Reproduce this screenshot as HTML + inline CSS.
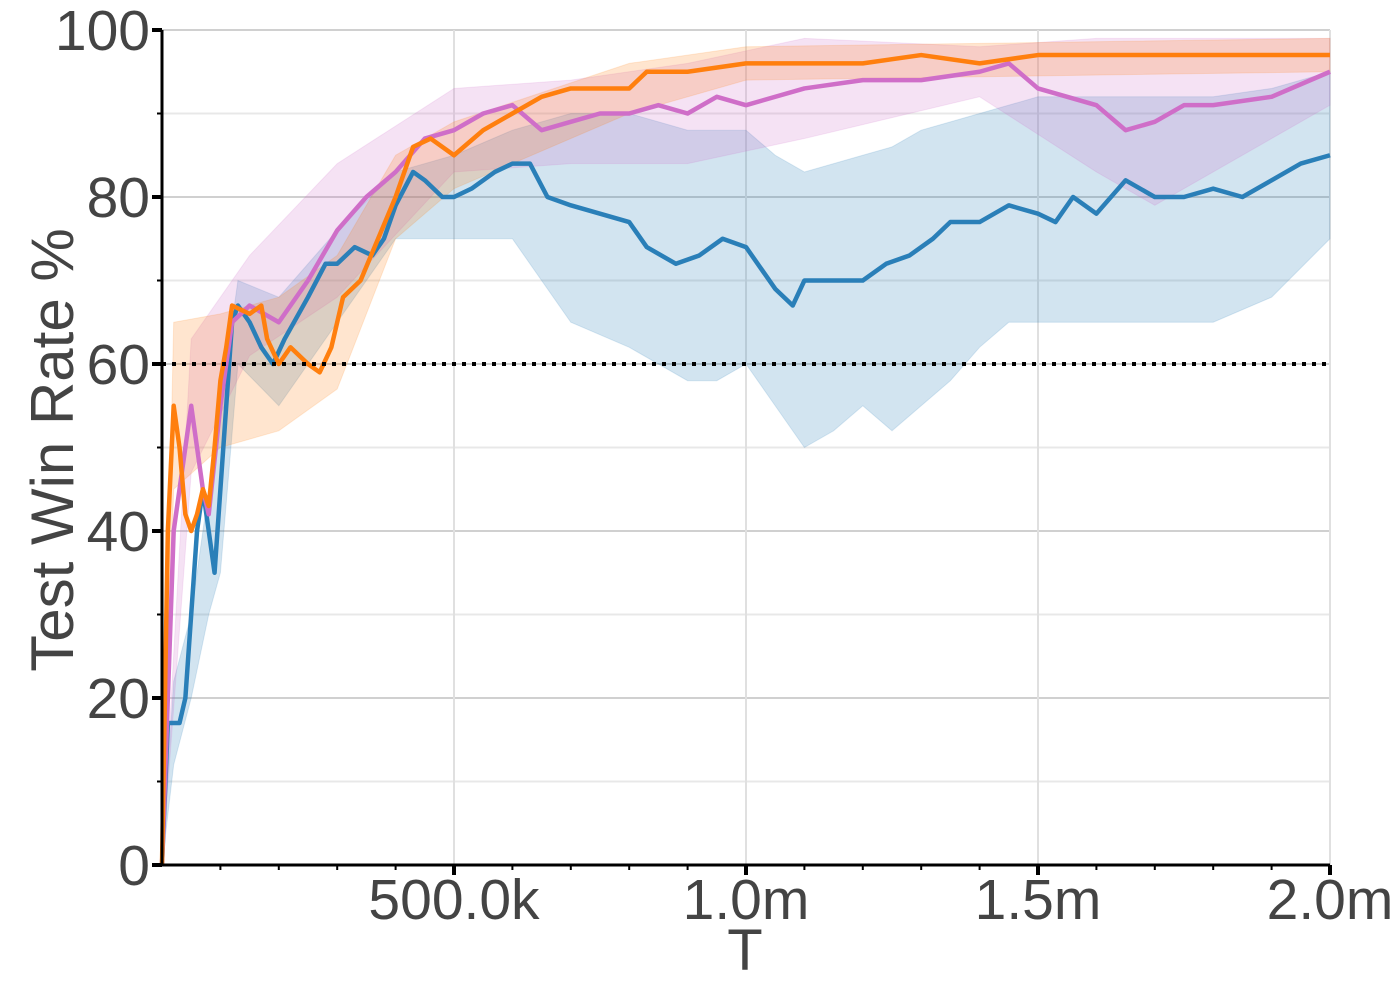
<!DOCTYPE html>
<html><head><meta charset="utf-8">
<style>
html,body{margin:0;padding:0;background:#fff;}
svg text{font-family:"Liberation Sans",sans-serif;fill:#444;}
</style></head>
<body>
<svg id="chart" width="1400" height="1000" viewBox="0 0 1400 1000" xmlns="http://www.w3.org/2000/svg">
<g id="grid"></g>
<g id="bands"></g>
<g id="lines"></g>
<g id="axes"></g>
<text x="745" y="970" font-size="58" text-anchor="middle">T</text>
<text transform="translate(73,450) rotate(-90)" font-size="60" text-anchor="middle">Test Win Rate %</text>
</svg>
<script>
const xTicks = [500, 1000, 1500, 2000];
const xTickLabels = ["500.0k", "1.0m", "1.5m", "2.0m"];
const yTicks = [0, 20, 40, 60, 80, 100];
const yTickLabels = ["0", "20", "40", "60", "80", "100"];
const threshold = 60;

const blueX = [0,10,30,40,50,60,70,80,90,100,110,120,130,150,170,190,210,250,280,300,330,360,380,400,430,450,480,500,530,570,600,630,660,700,750,800,830,880,920,960,1000,1050,1080,1100,1150,1200,1240,1280,1320,1350,1400,1450,1500,1530,1560,1600,1650,1700,1750,1800,1850,1900,1950,2000];
const blueY = [0,17,17,20,30,40,45,40,35,45,55,65,67,65,62,60,63,68,72,72,74,73,75,79,83,82,80,80,81,83,84,84,80,79,78,77,74,72,73,75,74,69,67,70,70,70,72,73,75,77,77,79,78,77,80,78,82,80,80,81,80,82,84,85];
const blueBandX = [0,20,50,80,100,130,200,300,400,500,600,700,800,900,950,1000,1050,1100,1150,1200,1250,1300,1350,1400,1450,1500,1600,1700,1800,1900,2000];
const blueLow = [0,12,20,30,35,60,55,65,75,75,75,65,62,58,58,60,55,50,52,55,52,55,58,62,65,65,65,65,65,68,75];
const blueHigh = [0,22,30,45,55,70,68,76,83,85,88,90,90,88,88,88,85,83,84,85,86,88,89,90,91,92,92,92,92,93,95];

const orangeX = [0,10,20,30,40,50,60,70,80,90,100,110,120,150,170,180,200,220,250,270,290,310,340,370,400,430,460,500,550,600,650,700,750,800,830,900,1000,1100,1200,1300,1400,1500,1600,1700,1800,1900,2000];
const orangeY = [0,40,55,50,42,40,42,45,43,50,58,62,67,66,67,63,60,62,60,59,62,68,70,75,80,86,87,85,88,90,92,93,93,93,95,95,96,96,96,97,96,97,97,97,97,97,97];
const orangeBandX = [0,20,100,200,300,400,500,800,1000,2000];
const orangeHalf = [0,10,8,8,8,5,4,3,2,2];

const pinkX = [0,20,40,50,60,70,80,100,120,150,200,250,300,350,400,450,500,550,600,650,700,750,800,850,900,950,1000,1100,1200,1300,1400,1450,1500,1550,1600,1650,1700,1750,1800,1900,2000];
const pinkY = [0,40,50,55,50,45,42,55,65,67,65,70,76,80,83,87,88,90,91,88,89,90,90,91,90,92,91,93,94,94,95,96,93,92,91,88,89,91,91,92,95];
const pinkBandX = [0,50,150,300,500,700,900,1100,1400,1600,1700,2000];
const pinkHalf = [0,8,6,8,5,5,6,6,3,8,10,4];

const X0 = 162, X1 = 1330, Y0 = 865, Y1 = 30;
function sx(v){ return X0 + (v/2000)*(X1-X0); }
function sy(v){ return Y0 - (v/100)*(Y0-Y1); }
function interp(xs, ys, x){
  for (let i=0;i<xs.length-1;i++){ if (x<=xs[i+1]){ const t=(x-xs[i])/(xs[i+1]-xs[i]); return ys[i]+t*(ys[i+1]-ys[i]); } }
  return ys[ys.length-1];
}
const NS = "http://www.w3.org/2000/svg";
function mk(tag, parent, attrs){ const e=document.createElementNS(NS,tag); for (const k in attrs) e.setAttribute(k, attrs[k]); parent.appendChild(e); return e; }

const grid = document.getElementById('grid');
for (let v=10; v<=100; v+=10){
  const l = mk('line', grid, {x1:X0,x2:X1,y1:sy(v),y2:sy(v),stroke: v%20===0?'#d0d0d0':'#e8e8e8','stroke-width':2});
  
  
}
xTicks.forEach(v=>{
  const l = mk('line', grid, {x1:sx(v),x2:sx(v),y1:Y1,y2:Y0,stroke:'#e0e0e0','stroke-width':2});
  
  
});

function band(xs, lo, hi, color, name){
  let d = 'M';
  d += xs.map((x,i)=>sx(x)+','+sy(hi[i])).join(' L');
  for (let i=xs.length-1;i>=0;i--) d += ' L'+sx(xs[i])+','+sy(lo[i]);
  const p = mk('path', document.getElementById('bands'), {d:d+' Z', fill:color, 'fill-opacity':0.2, stroke:color,'stroke-opacity':0.15});
  
  
}
function line(xs, ys, color, name){
  const d = 'M' + xs.map((x,i)=>sx(x)+','+sy(ys[i])).join(' L');
  const p = mk('path', document.getElementById('lines'), {d:d, fill:'none', stroke:color,'stroke-width':4.5,'stroke-linejoin':'round'});
  
  
}
const bands2 = (bx, half, mx, my) => {
  const lo = bx.map((x,i)=>Math.max(0, interp(mx,my,x)-half[i]));
  const hi = bx.map((x,i)=>Math.min(100, interp(mx,my,x)+half[i]));
  return [lo, hi];
};
band(blueBandX, blueLow, blueHigh, '#1f77b4', 'blue-band');
const pb = bands2(pinkBandX, pinkHalf, pinkX, pinkY);
band(pinkBandX, pb[0], pb[1], '#cf6ec8', 'pink-band');
const ob = bands2(orangeBandX, orangeHalf, orangeX, orangeY);
band(orangeBandX, ob[0], ob[1], '#ff7f0e', 'orange-band');
line(blueX, blueY, '#2a7fb8', 'blue-series-line');
line(pinkX, pinkY, '#cf6ec8', 'pink-series-line');
line(orangeX, orangeY, '#ff7f0e', 'orange-series-line');

const axes = document.getElementById('axes');
const th = mk('line', axes, {x1:X0,x2:X1,y1:sy(threshold),y2:sy(threshold),stroke:'#000','stroke-width':4,'stroke-dasharray':'4,6'});


mk('line', axes, {x1:X0,x2:X0,y1:Y1,y2:Y0+1.5,stroke:'#000','stroke-width':3});
mk('line', axes, {x1:X0-1.5,x2:X1,y1:Y0,y2:Y0,stroke:'#000','stroke-width':3});
for (let v=10; v<100; v+=20) mk('line', axes, {x1:X0-5,x2:X0,y1:sy(v),y2:sy(v),stroke:'#000','stroke-width':2});
yTicks.forEach((v,i)=>{
  mk('line', axes, {x1:X0-10,x2:X0,y1:sy(v),y2:sy(v),stroke:'#000','stroke-width':4});
  const t = mk('text', axes, {x:X0-12,y:sy(v)+20,'font-size':57,'text-anchor':'end'});
  t.textContent = yTickLabels[i];
  
  
});
for (let v=100; v<2000; v+=100) if (v%500) mk('line', axes, {x1:sx(v),x2:sx(v),y1:Y0,y2:Y0+5,stroke:'#000','stroke-width':2});
xTicks.forEach((v,i)=>{
  mk('line', axes, {x1:sx(v),x2:sx(v),y1:Y0,y2:Y0+10,stroke:'#000','stroke-width':4});
  const t = mk('text', axes, {x:sx(v),y:919,'font-size':57,'text-anchor':'middle'});
  t.textContent = xTickLabels[i];
  
  
});
</script>
</body></html>
